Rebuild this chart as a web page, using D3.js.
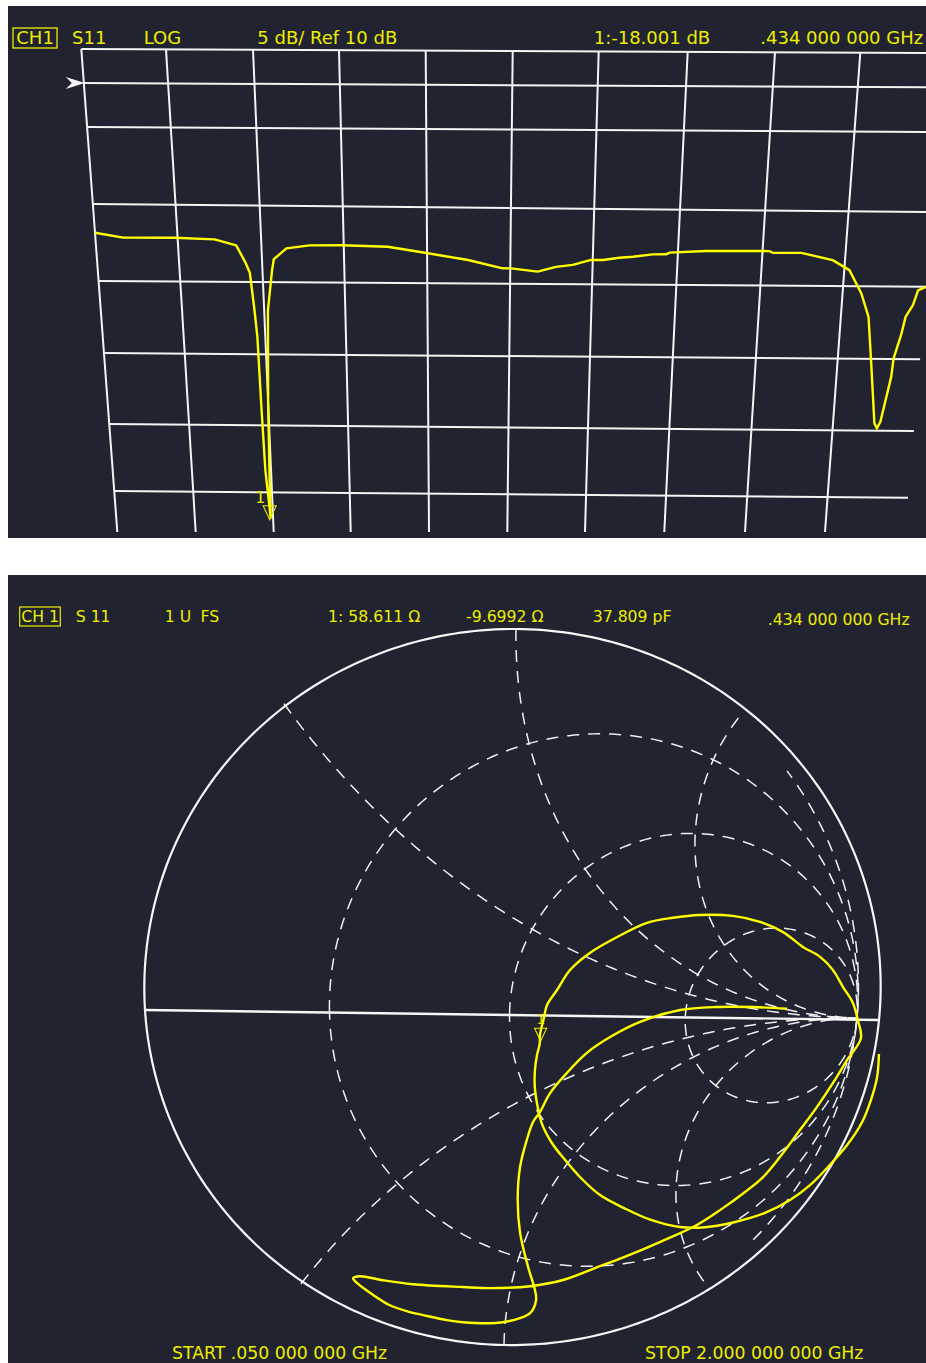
<!DOCTYPE html>
<html><head><meta charset="utf-8">
<script src="https://cdn.jsdelivr.net/npm/d3@7"></script>
<style>
body{margin:0;background:#ffffff;}
svg{display:block;}
text{font-family:"DejaVu Sans",sans-serif;}
</style>
</head><body>
<svg id="c" width="926" height="1363"></svg>
<script>
// ---------------- DATA ----------------
const startFreq = 0.05, stopFreq = 2.0;      // GHz
const refLevel = 10, dbPerDiv = 5;            // dB
const freqDivs = 10;
const logFreq = [0.050,0.116,0.238,0.331,0.381,0.401,0.410,0.417,0.421,0.423,0.426,0.434,0.436,0.440,0.449,0.463,0.468,0.499,0.554,0.629,0.738,0.832,0.926,1.007,1.027,1.090,1.133,1.173,1.216,1.243,1.281,1.312,1.357,1.388,1.396,1.480,1.626,1.634,1.701,1.776,1.817,1.849,1.870,1.884,1.904,1.911,1.918,1.935,1.937,1.950,1.957,1.972,1.981,2.000];
const logDb = [-1.87,-2.17,-2.15,-2.23,-2.61,-3.74,-4.39,-6.94,-8.79,-13.43,-18.34,-21.9,-18.3,-13.4,-6.94,-4.20,-3.50,-2.78,-2.57,-2.55,-2.62,-3.03,-3.45,-3.98,-3.98,-4.18,-3.86,-3.72,-3.38,-3.38,-3.22,-3.15,-2.98,-2.97,-2.86,-2.73,-2.70,-2.81,-2.80,-3.27,-3.93,-5.50,-7.10,-10.08,-14.49,-14.84,-14.38,-11.24,-9.95,-8.35,-7.09,-6.28,-5.25,-5.00];
const markerFreq = 0.434;

// Smith chart trace: reflection coefficient (real, imaginary)
const smithRe = [1.075,1.076,1.064,1.044,1.005,0.958,0.903,0.846,0.773,0.684,0.594,0.518,0.430,0.348,0.275,0.214,0.169,0.129,0.099,0.086,0.076,0.075,0.080,0.087,0.087,0.097,0.105,0.132,0.167,0.221,0.296,0.378,0.450,0.526,0.619,0.697,0.765,0.825,0.877,0.917,0.951,0.984,1.003,1.017,0.982,0.946,0.904,0.859,0.805,0.759,0.708,0.636,0.569,0.460,0.354,0.268,0.173,0.075,-0.045,-0.125,-0.273,-0.361,-0.428,-0.448,-0.437,-0.390,-0.341,-0.282,-0.243,-0.172,-0.124,-0.043,0.026,0.077,0.094,0.090,0.068,0.042,0.033,0.038,0.056,0.073,0.092,0.120,0.167,0.222,0.287,0.371,0.484,0.590,0.694,0.793];
const smithIm = [-0.104,-0.172,-0.240,-0.306,-0.376,-0.437,-0.499,-0.545,-0.585,-0.613,-0.629,-0.628,-0.606,-0.569,-0.529,-0.474,-0.423,-0.372,-0.316,-0.269,-0.211,-0.158,-0.115,-0.082,-0.058,-0.010,0.027,0.069,0.125,0.173,0.218,0.258,0.273,0.282,0.281,0.266,0.239,0.199,0.172,0.136,0.088,0.043,-0.006,-0.058,-0.122,-0.190,-0.262,-0.331,-0.413,-0.474,-0.520,-0.576,-0.622,-0.675,-0.722,-0.756,-0.793,-0.812,-0.817,-0.813,-0.803,-0.790,-0.777,-0.783,-0.798,-0.836,-0.869,-0.891,-0.901,-0.918,-0.925,-0.929,-0.920,-0.898,-0.856,-0.825,-0.752,-0.645,-0.544,-0.444,-0.363,-0.310,-0.281,-0.225,-0.166,-0.108,-0.062,-0.018,0.017,0.027,0.028,0.024];
const markerZ = [58.611, -9.6992];   // ohms
const z0 = 50;
const rCircles = [1/3, 1, 3];
const xArcs = [0.5, 1, 2];

const topHeader = [["CH1",16.3,true],["S11",72],["LOG",143.7],["5 dB/ Ref 10 dB",257.3],["1:-18.001 dB",593.7],[".434 000 000 GHz",760.3]];
const smithHeader = [["CH 1",21.3,true],["S 11",75.7],["1 U",164.7],["FS",200.5],["1: 58.611 \u03A9",328],["-9.6992 \u03A9",466],["37.809 pF",592.7],[".434 000 000 GHz",767.7]];
const footer = [["START .050 000 000 GHz",172],["STOP 2.000 000 000 GHz",645]];

// ---------------- STYLE / LAYOUT ----------------
const BG = "#222331", GRID = "#f4f4f4", TRACE = "#ffff00", TXT = "#eded00";
const svg = d3.select("#c");
const defs = svg.append("defs");

// ================= TOP PANEL (log magnitude) =================
const P1 = {x:8, y:6, w:918, h:532};
svg.append("rect").attr("x",P1.x).attr("y",P1.y).attr("width",P1.w).attr("height",P1.h).attr("fill",BG);
defs.append("clipPath").attr("id","clipTop").append("rect").attr("x",P1.x).attr("y",P1.y).attr("width",P1.w).attr("height",P1.h);
const gTop = svg.append("g").attr("clip-path","url(#clipTop)");

const uScale = d3.scaleLinear().domain([startFreq, stopFreq]).range([0, freqDivs]);
const vScale = d3.scaleLinear().domain([refLevel + dbPerDiv, refLevel - 6*dbPerDiv]).range([0, 7]);
const xTop = d3.scaleLinear().domain(d3.range(11)).range([81.3,166,253,339,425.7,512.7,598.7,687.7,775,860.3,947]);
const xBot = d3.scaleLinear().domain(d3.range(11)).range([117.3,195.7,273.7,350.7,429,507.3,585,664.3,745,825,905]);
const yLeft = d3.scaleLinear().domain(d3.range(8)).range([49,83,127,204,281,353,424,491]);
const yRight = d3.scaleLinear().domain(d3.range(8)).range([53,87.4,132.1,212.1,286.7,359.3,431,497.7]);
const yBottom = 532;

function vertLine(u){
  const xt = xTop(u), yt = yLeft(0) + (yRight(0)-yLeft(0))*(xt-xTop(0))/(xTop(freqDivs)-xTop(0));
  return [[xt,yt],[xBot(u),yBottom]];
}
function onLine(seg, y){ const [[x1,y1],[x2,y2]] = seg; return x1 + (x2-x1)*(y-y1)/(y2-y1); }
function horizLine(v){
  const yl = yLeft(v), yr = yRight(v);
  return [[onLine(vertLine(0),yl), yl],[onLine(vertLine(freqDivs),yr), yr]];
}
function intersect([[x1,y1],[x2,y2]],[[x3,y3],[x4,y4]]){
  const d = (x1-x2)*(y3-y4)-(y1-y2)*(x3-x4);
  const a = x1*y2-y1*x2, b = x3*y4-y3*x4;
  return [(a*(x3-x4)-(x1-x2)*b)/d, (a*(y3-y4)-(y1-y2)*b)/d];
}
const gridPt = (u,v) => intersect(vertLine(u), horizLine(v));
const logPt = (f,db) => gridPt(uScale(f), vScale(db));

const lineGen = d3.line();
d3.range(8).forEach(v=>{
  gTop.append("path").attr("d", lineGen(horizLine(v))).attr("stroke",GRID).attr("stroke-width",2).attr("fill","none");
});
d3.range(freqDivs).forEach(u=>{
  gTop.append("path").attr("d", lineGen(vertLine(u))).attr("stroke",GRID).attr("stroke-width",2).attr("fill","none");
});
{
  const [ax, ay] = gridPt(0, vScale(refLevel));
  gTop.append("path")
    .attr("d", `M${ax-18},${ay-6} L${ax+1},${ay} L${ax-18},${ay+6} L${ax-12},${ay} Z`)
    .attr("fill", GRID);
}
const logPts = logFreq.map((f,i)=>logPt(f, logDb[i]));
gTop.append("path").attr("d", d3.line().curve(d3.curveLinear)(logPts))
  .attr("fill","none").attr("stroke",TRACE).attr("stroke-width",2.4).attr("stroke-linejoin","round");
{
  const mi = logFreq.indexOf(markerFreq);
  const [mx,my] = logPts[mi];
  const tx = mx - 1, ty = my + 2;
  gTop.append("path").attr("d",`M${tx-6.5},${ty-14} L${tx+6.5},${ty-14} L${tx},${ty} Z`)
    .attr("fill","none").attr("stroke",TXT).attr("stroke-width",1.1);
  gTop.append("text").attr("x",tx-9.5).attr("y",ty-17).attr("text-anchor","middle")
    .attr("font-size",16).attr("fill",TXT).style("font-family","'DejaVu Sans Mono',monospace").text("1");
}
topHeader.forEach(([t,x,boxed])=>{
  svg.append("text").attr("x",x).attr("y",44).attr("font-size",18).attr("fill",TXT).text(t);
  if(boxed){
    svg.append("rect").attr("x",x-3.3).attr("y",28).attr("width",44).attr("height",20)
      .attr("fill","none").attr("stroke",TXT).attr("stroke-width",1.3);
  }
});

// ================= BOTTOM PANEL (Smith chart) =================
const P2 = {x:8, y:575, w:918, h:788};
svg.append("rect").attr("x",P2.x).attr("y",P2.y).attr("width",P2.w).attr("height",P2.h).attr("fill",BG);
defs.append("clipPath").attr("id","clipBot").append("rect").attr("x",P2.x).attr("y",P2.y).attr("width",P2.w).attr("height",P2.h);
const gBot = svg.append("g").attr("clip-path","url(#clipBot)");

function homography(anchors){
  const A=[], B=[];
  anchors.forEach(([x,y,X,Y])=>{
    A.push([x,y,1,0,0,0,-x*X,-y*X]); B.push(X);
    A.push([0,0,0,x,y,1,-x*Y,-y*Y]); B.push(Y);
  });
  const n=8;
  for(let i=0;i<n;i++){
    let p=i; for(let r=i+1;r<n;r++) if(Math.abs(A[r][i])>Math.abs(A[p][i])) p=r;
    [A[i],A[p]]=[A[p],A[i]]; [B[i],B[p]]=[B[p],B[i]];
    for(let r=0;r<n;r++){ if(r===i) continue; const f=A[r][i]/A[i][i]; for(let c=i;c<n;c++) A[r][c]-=f*A[i][c]; B[r]-=f*B[i]; }
  }
  const h=B.map((b,i)=>b/A[i][i]);
  return ([u,v])=>{const D=h[6]*u+h[7]*v+1; return [(h[0]*u+h[1]*v+h[2])/D,(h[3]*u+h[4]*v+h[5])/D];};
}
const gridProj = homography([[-1,0,145,1010],[1,0,857,1018],[0,1,516,629],[0,-1,504,1345]]);
const rimProj  = homography([[-1,0,145,1010],[1,0,879,1020],[0,1,516,629],[0,-1,504,1345]]);

const dash = "12 9";
const gridStroke = (sel)=>sel.attr("fill","none").attr("stroke","#f0f0f0").attr("stroke-width",1.5).attr("stroke-dasharray",dash);

rCircles.forEach(r=>{
  const cx = r/(1+r), rad = 1/(1+r);
  const pts = d3.range(0, 361, 1).map(a=>{ const t = Math.PI + a*Math.PI/180; return gridProj([cx+rad*Math.cos(t), -rad*Math.sin(t)]); });
  gBot.append("path").attr("d", d3.line()(pts)).call(gridStroke);
});
xArcs.forEach(x=>{
  [1,-1].forEach(s=>{
    const ex = (x*x-1)/(x*x+1), ey = 2*x/(x*x+1);
    let a1 = Math.atan2(ey - 1/x, ex - 1); if(a1<0) a1 += 2*Math.PI;
    const a2 = 1.5*Math.PI;
    const pts = d3.range(0, 1.0001, 1/150).map(k=>{ const t = a1 + (a2-a1)*k; return gridProj([1 + Math.cos(t)/x, s*(1/x + Math.sin(t)/x)]); });
    gBot.append("path").attr("d", d3.line()(pts)).call(gridStroke);
  });
});
{
  const pts = d3.range(-42, 42.5, 1).map(a=>{ const t=a*Math.PI/180; return gridProj([Math.cos(t), Math.sin(t)]); });
  gBot.append("path").attr("d", d3.line()(pts)).call(gridStroke);
}
{
  const pts = d3.range(0, 361, 1).map(a=>{ const t=a*Math.PI/180; return rimProj([Math.cos(t), Math.sin(t)]); });
  gBot.append("path").attr("d", d3.line().curve(d3.curveLinearClosed)(pts)).attr("fill","none").attr("stroke","#f6f6f6").attr("stroke-width",2.2);
}
gBot.append("path").attr("d", d3.line()([rimProj([-1,0]), rimProj([1,0])])).attr("stroke","#f6f6f6").attr("stroke-width",2.4);

const smithPts = smithRe.map((re,i)=>gridProj([re, smithIm[i]]));
gBot.append("path").attr("d", d3.line().curve(d3.curveCatmullRom.alpha(0.5))(smithPts))
  .attr("fill","none").attr("stroke",TRACE).attr("stroke-width",2.4).attr("stroke-linejoin","round");

{
  const zr = markerZ[0]/z0, zi = markerZ[1]/z0;
  const nr = zr-1, ni = zi, dr = zr+1, di = zi, dd = dr*dr+di*di;
  const g = [(nr*dr+ni*di)/dd, (ni*dr-nr*di)/dd];
  const [mx,my] = gridProj(g);
  const tx = mx+1, ty = my-2;
  gBot.append("path").attr("d",`M${tx-6},${ty-13} L${tx+6},${ty-13} L${tx},${ty} Z`)
    .attr("fill","none").attr("stroke",TXT).attr("stroke-width",1.1);
  gBot.append("text").attr("x",tx).attr("y",ty-17).attr("text-anchor","middle")
    .attr("font-size",14).attr("fill",TXT).style("font-family","'DejaVu Sans Mono',monospace").text("1");
}

smithHeader.forEach(([t,x,boxed],i)=>{
  const y = i===smithHeader.length-1 ? 625 : 622;
  svg.append("text").attr("x",x).attr("y",y).attr("font-size",15.7).attr("fill",TXT).text(t);
  if(boxed){
    svg.append("rect").attr("x",x-1.6).attr("y",607).attr("width",40.6).attr("height",19)
      .attr("fill","none").attr("stroke",TXT).attr("stroke-width",1.2);
  }
});
footer.forEach(([t,x])=>{
  svg.append("text").attr("x",x).attr("y",1358.6).attr("font-size",17.3).attr("fill",TXT).text(t);
});
</script>
</body></html>
